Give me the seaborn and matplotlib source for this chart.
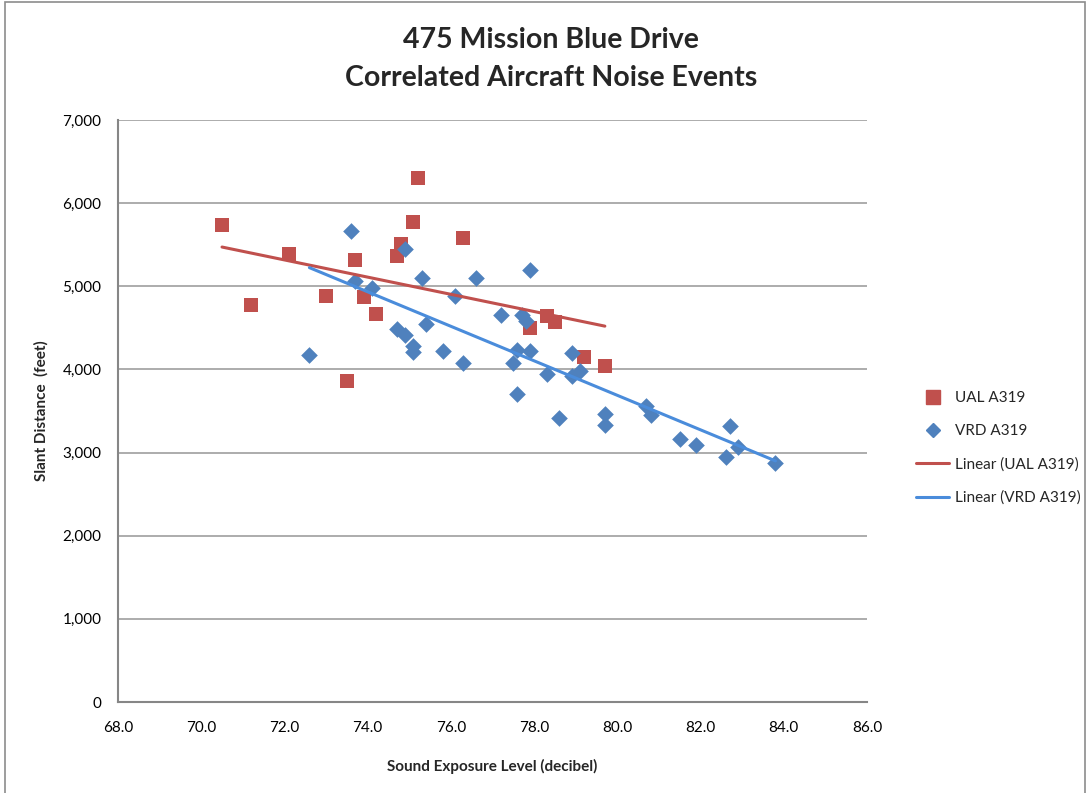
import numpy as np
import pandas as pd
import matplotlib
matplotlib.use("Agg")
import matplotlib.pyplot as plt
from matplotlib.lines import Line2D
from matplotlib.patches import Rectangle
from matplotlib.ticker import FuncFormatter
import seaborn as sns

# UAL A319 events: sound exposure level (dB) and slant distance (ft)
ual_sel = [70.5, 71.2, 72.1, 73.0, 73.5, 73.7, 73.9, 74.2, 74.7, 74.8,
           75.1, 75.2, 76.3, 77.9, 78.3, 78.5, 79.2, 79.7]
ual_dist = [5740, 4780, 5390, 4880, 3855, 5320, 4870, 4670, 5370, 5510,
            5770, 6300, 5580, 4500, 4640, 4570, 4150, 4040]

# VRD A319 events
vrd_sel = [72.6, 73.6, 73.7, 74.1, 74.7, 74.9, 74.9, 75.1, 75.1, 75.3,
           75.4, 75.8, 76.1, 76.3, 76.6, 77.2, 77.5, 77.6, 77.6, 77.7,
           77.8, 77.9, 77.9, 78.3, 78.6, 78.9, 78.9, 79.1, 79.7, 79.7,
           80.7, 80.8, 81.5, 81.9, 82.6, 82.7, 82.9, 83.8]
vrd_dist = [4170, 5670, 5060, 4980, 4490, 5450, 4410, 4280, 4210, 5100,
            4550, 4220, 4880, 4080, 5100, 4660, 4080, 3700, 4230, 4650,
            4580, 5200, 4220, 3940, 3420, 4200, 3920, 3980, 3460, 3330,
            3560, 3450, 3160, 3090, 2950, 3320, 3070, 2880]

series_names = ["UAL A319", "VRD A319"]
x_ticks = [68, 70, 72, 74, 76, 78, 80, 82, 84, 86]
y_ticks = [0, 1000, 2000, 3000, 4000, 5000, 6000, 7000]

red = "#C0504D"
blue = "#4F81BD"
red_line = "#C0504D"
blue_line = "#4A8CDB"

df = pd.DataFrame({
    "sel": ual_sel + vrd_sel,
    "dist": ual_dist + vrd_dist,
    "carrier": [series_names[0]] * len(ual_sel) + [series_names[1]] * len(vrd_sel),
})

sns.set_theme(style="white")
plt.rcParams["font.family"] = ["Lato", "DejaVu Sans"]

fig = plt.figure(figsize=(10.9, 7.93), dpi=100)
ax = fig.add_axes([118 / 1090, 91 / 793, 749 / 1090, 582 / 793])

# chart frame
fig.add_artist(Rectangle((5 / 1090, -0.05), 1080 / 1090, 1.05 - 2 / 793,
                         transform=fig.transFigure, fill=False,
                         edgecolor="#8C8C8C", linewidth=1.2))

ax.set_axisbelow(True)
ax.yaxis.grid(True, color="#A6A6A6", linewidth=1.3)
ax.xaxis.grid(False)

sns.scatterplot(data=df[df.carrier == series_names[0]], x="sel", y="dist",
                marker="s", s=115, color=red, edgecolor=red, linewidth=0,
                ax=ax, legend=False, zorder=3)
sns.scatterplot(data=df[df.carrier == series_names[1]], x="sel", y="dist",
                marker="D", s=72, color=blue, edgecolor=blue, linewidth=0,
                ax=ax, legend=False, zorder=3)

# least-squares trend lines over each series' range
for xs, ys, col in [(ual_sel, ual_dist, red_line),
                    (vrd_sel, vrd_dist, blue_line)]:
    k, b = np.polyfit(xs, ys, 1)
    xr = np.array([min(xs), max(xs)])
    sns.lineplot(x=xr, y=k * xr + b, color=col, linewidth=2.2, ax=ax, zorder=4)

ax.set_xlim(68, 86)
ax.set_ylim(0, 7000)
ax.set_xticks(x_ticks)
ax.set_yticks(y_ticks)
ax.xaxis.set_major_formatter(FuncFormatter(lambda v, p: f"{v:.1f}"))
ax.yaxis.set_major_formatter(FuncFormatter(lambda v, p: f"{int(v):,}"))
ax.tick_params(axis="both", length=0, labelsize=11, colors="black")
ax.tick_params(axis="x", pad=14)
ax.tick_params(axis="y", pad=12)

for side in ["top", "right"]:
    ax.spines[side].set_visible(False)
for side in ["left", "bottom"]:
    ax.spines[side].set_color("#868686")
    ax.spines[side].set_linewidth(1.5)

ax.set_xlabel("Sound Exposure Level (decibel)", fontsize=11, fontweight="bold", labelpad=17)
ax.set_ylabel("Slant Distance  (feet)", fontsize=11, fontweight="bold", labelpad=10)

fig.text(551 / 1090, 1 - 40 / 793, "475 Mission Blue Drive", ha="center", va="center",
         fontsize=20.5, fontweight="bold")
fig.text(551 / 1090, 1 - 78 / 793, "Correlated Aircraft Noise Events", ha="center",
         va="center", fontsize=20.5, fontweight="bold")

handles = [
    Line2D([], [], marker="s", color=red, linestyle="none", markersize=10),
    Line2D([], [], marker="D", color=blue, linestyle="none", markersize=7.5),
    Line2D([], [], color=red_line, linewidth=2.2),
    Line2D([], [], color=blue_line, linewidth=2.2),
]
labels = [series_names[0], series_names[1],
          f"Linear ({series_names[0]})", f"Linear ({series_names[1]})"]
fig.legend(handles, labels, loc="center left", bbox_to_anchor=(902 / 1090, 1 - 448 / 793),
           frameon=False, fontsize=11, handlelength=2.2, handletextpad=0.4,
           labelspacing=1.25)

fig.savefig("out.png", dpi=100)
